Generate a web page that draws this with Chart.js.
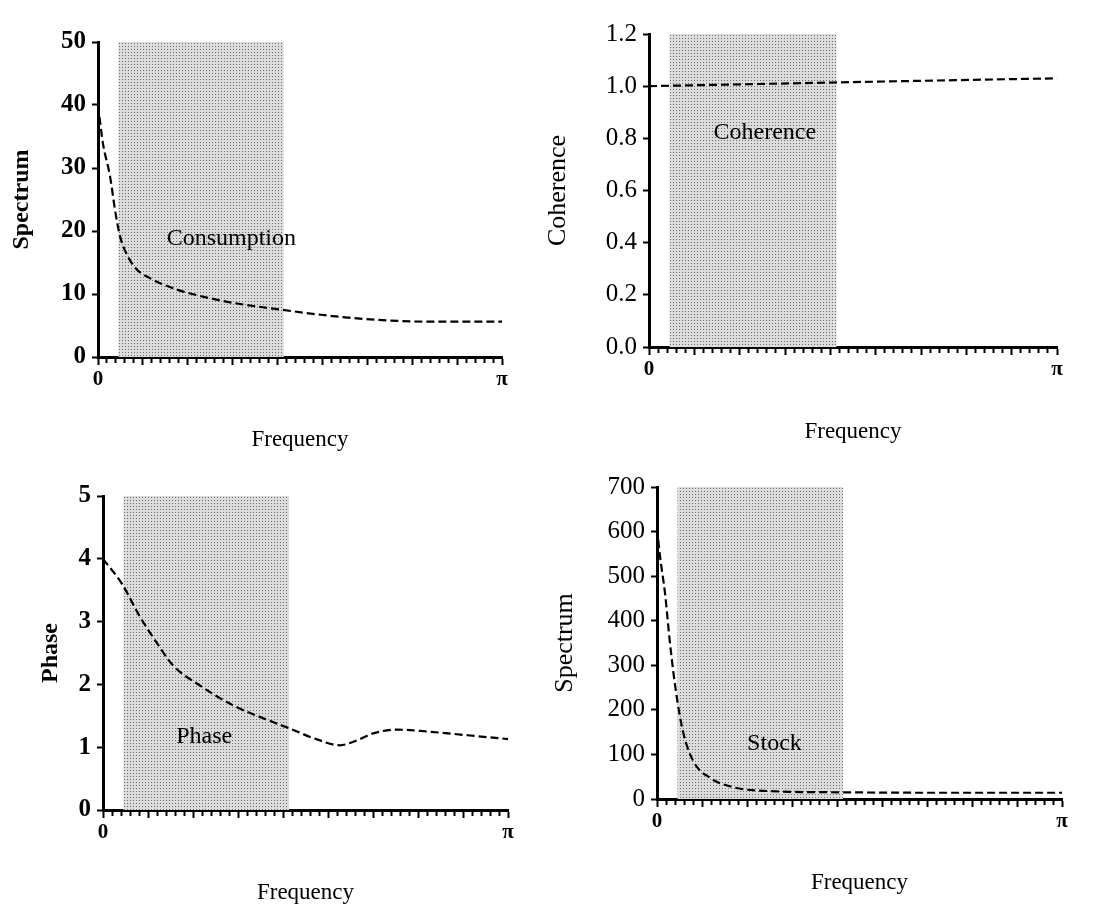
<!DOCTYPE html>
<html>
<head>
<meta charset="utf-8">
<script src="https://cdn.jsdelivr.net/npm/chart.js@4"></script>
<style>
  body { margin: 0; background: #fff; }
  #wrap { position: relative; width: 1100px; height: 905px; overflow: hidden; }
  #wrap canvas { position: absolute; }
</style>
</head>
<body>
<div id="wrap"></div>
<script>
// frequencies are given as a fraction of pi (0 .. 1)
const bandFreq = [0.05, 0.46];

const consFreq = [0, 0.012, 0.03, 0.042, 0.054, 0.072, 0.096, 0.129, 0.186, 0.252, 0.334, 0.443, 0.58, 0.69, 0.83, 1.0];
const consSpec = [40, 34, 28.6, 23.4, 19.3, 16.2, 13.9, 12.5, 10.9, 9.7, 8.6, 7.6, 6.5, 5.9, 5.6, 5.6];

const cohFreq = [0, 0.45, 0.75, 1.0];
const cohVals = [1.0, 1.014, 1.023, 1.03];

const phaseFreq = [0, 0.047, 0.091, 0.133, 0.173, 0.24, 0.32, 0.40, 0.46, 0.53, 0.585, 0.62, 0.667, 0.726, 0.8, 0.9, 1.0];
const phaseVals = [4.0, 3.6, 3.08, 2.66, 2.3, 1.98, 1.67, 1.45, 1.3, 1.12, 1.03, 1.09, 1.22, 1.28, 1.25, 1.19, 1.13];

const stockFreq = [0, 0.007, 0.02, 0.032, 0.047, 0.064, 0.089, 0.13, 0.19, 0.27, 0.46, 0.7, 1.0];
const stockSpec = [608, 548, 460, 350, 240, 152, 86, 48, 26, 18, 15, 14, 14];

const xTickCount = 45;   // minor divisions between 0 and pi
const xTickLabels = ['0', 'π'];

Chart.defaults.font.family = "'Liberation Serif', 'Times New Roman', serif";
Chart.defaults.color = '#000';

// dotted screen used for the shaded band
function dotPattern() {
    const c = document.createElement('canvas');
    c.width = 3; c.height = 3;
    const g = c.getContext('2d');
    g.fillStyle = '#dcdcdc';
    g.fillRect(0, 0, 3, 3);
    g.fillStyle = '#6e6e6e';
    g.fillRect(1, 1, 1, 1);
    return g.createPattern(c, 'repeat');
}

const panels = [
    { freq: consFreq, vals: consSpec, yMax: 50, yStep: 10, dec: 0, yTitle: 'Spectrum', label: 'Consumption', labelAt: [0.33, 18.7], bold: true,
      area: [98, 36, 502, 357], titleX: 21, freqY: 440 },
    { freq: cohFreq, vals: cohVals, yMax: 1.2, yStep: 0.2, dec: 1, yTitle: 'Coherence', label: 'Coherence', labelAt: [0.284, 0.82], bold: false,
      area: [649, 28, 1057, 347], titleX: 559, freqY: 432 },
    { freq: phaseFreq, vals: phaseVals, yMax: 5, yStep: 1, dec: 0, yTitle: 'Phase', label: 'Phase', labelAt: [0.25, 1.17], bold: true,
      area: [103, 490, 508, 810], titleX: 50, freqY: 893 },
    { freq: stockFreq, vals: stockSpec, yMax: 700, yStep: 100, dec: 0, yTitle: 'Spectrum', label: 'Stock', labelAt: [0.29, 125], bold: false,
      area: [657, 481, 1062, 799], titleX: 566, freqY: 883 }
];

// writes the text label inside each panel
const innerLabel = {
    id: 'innerLabel',
    afterDatasetsDraw(chart, args, opts) {
        const {ctx, scales: {x, y}} = chart;
        ctx.save();
        ctx.font = "24px 'Liberation Serif', serif";
        ctx.fillStyle = '#000';
        ctx.textAlign = 'center';
        ctx.textBaseline = 'middle';
        ctx.fillText(opts.text, x.getPixelForValue(opts.at[0]), y.getPixelForValue(opts.at[1]));
        ctx.restore();
    }
};

const wrap = document.getElementById('wrap');
const pattern = dotPattern();

panels.forEach(p => {
    const titleFont = p.bold ? {size: 24, weight: 'bold'} : {size: 26, weight: 'normal'};
    const tickFont = p.bold ? {size: 25, weight: 'bold'} : {size: 25, weight: 'normal'};
    const freqFont = {size: 23, weight: 'normal'};

    const left = Math.round(p.titleX - titleFont.size * 1.2 / 2);
    const yw = p.area[0] - left;
    const top = p.area[1] - 15;
    const xh = Math.round(p.freqY + freqFont.size * 1.2 / 2 - p.area[3]);
    const w = yw + (p.area[2] - p.area[0]) + 15;
    const h = 15 + (p.area[3] - p.area[1]) + xh;

    const canvas = document.createElement('canvas');
    canvas.width = w; canvas.height = h;
    canvas.style.left = left + 'px';
    canvas.style.top = top + 'px';
    wrap.appendChild(canvas);

    new Chart(canvas.getContext('2d'), {
        type: 'line',
        data: {
            datasets: [{
                data: p.freq.map((f, i) => ({x: f, y: p.vals[i]})),
                borderColor: '#000',
                borderWidth: 2.2,
                borderDash: [8, 4],
                pointRadius: 0,
                cubicInterpolationMode: 'monotone',
                fill: false
            }, {
                data: bandFreq.map(f => ({x: f, y: p.yMax})),
                borderWidth: 0,
                pointRadius: 0,
                backgroundColor: pattern,
                fill: 'origin'
            }]
        },
        options: {
            responsive: false,
            animation: false,
            layout: {padding: {top: 15, right: 15, left: 0, bottom: 0}},
            plugins: {
                legend: {display: false},
                tooltip: {enabled: false},
                innerLabel: {text: p.label, at: p.labelAt}
            },
            scales: {
                x: {
                    type: 'linear', min: 0, max: 1,
                    afterBuildTicks: s => {
                        s.ticks = [];
                        for (let i = 0; i <= xTickCount; i++) s.ticks.push({value: i / xTickCount});
                    },
                    afterFit: s => { s.height = xh; },
                    ticks: {
                        autoSkip: false, maxRotation: 0, padding: 2,
                        font: {size: 21, weight: 'bold'},
                        callback: (v, i) => i === 0 ? xTickLabels[0] : (i === xTickCount ? xTickLabels[1] : '')
                    },
                    grid: {
                        drawOnChartArea: false, tickLength: 8, tickWidth: 2, tickColor: '#000',
                        tickBorderDash: c => c.index % 5 === 0 ? [] : [4, 20]
                    },
                    border: {color: '#000', width: 3},
                    title: {display: true, text: 'Frequency', font: freqFont, padding: 0}
                },
                y: {
                    min: 0, max: p.yMax,
                    afterFit: s => { s.width = yw; },
                    ticks: {
                        stepSize: p.yStep, padding: 6, font: tickFont,
                        callback: v => v.toFixed(p.dec)
                    },
                    grid: {drawOnChartArea: false, tickLength: 6, tickWidth: 2, tickColor: '#000'},
                    border: {color: '#000', width: 3},
                    title: {display: true, text: p.yTitle, font: titleFont, padding: 0}
                }
            }
        },
        plugins: [innerLabel]
    });
});
</script>
</body>
</html>
